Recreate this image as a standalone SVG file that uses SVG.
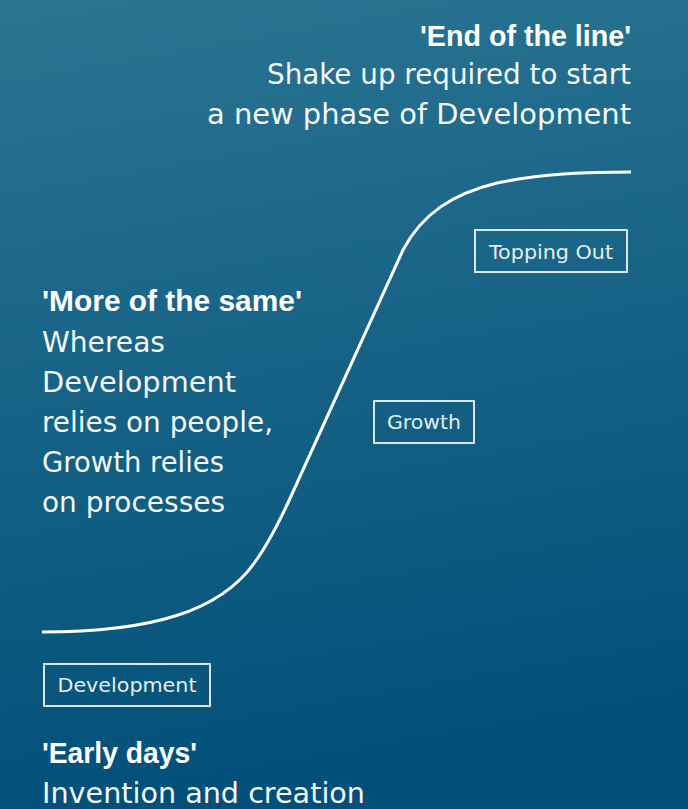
<svg xmlns="http://www.w3.org/2000/svg" width="688" height="809" viewBox="0 0 688 809">
<defs>
<linearGradient id="bg" x1="0" y1="0" x2="0.15" y2="1">
<stop offset="0" stop-color="#2b7592"/>
<stop offset="1" stop-color="#02507a"/>
</linearGradient>
<style>
.t{font-family:"DejaVu Sans","Liberation Sans",sans-serif;font-size:28px;fill:#f3f7f9}
.b{font-family:"Liberation Sans",Arial,sans-serif;font-size:29px;font-weight:bold;fill:#ffffff}
.lbl{font-family:"DejaVu Sans","Liberation Sans",sans-serif;font-size:20px;fill:#e6eef2;text-anchor:middle}
.box{fill:none;stroke:#f0f5f8;stroke-width:1.8}
.curve{fill:none;stroke:#ffffff;stroke-width:3;stroke-linecap:butt}
</style>
</defs>
<rect width="688" height="809" fill="url(#bg)"/>
<g id="connectors">
<path class="curve" d="M42,632 C150,632 220,612 255,562 C268,544 278,524 287,505 L403,250 C422,214 452,194 497,183 C545,173 590,172 631,172"/>
</g>
<g id="end-of-line">
<text class="b" x="420" y="46" textLength="211" lengthAdjust="spacingAndGlyphs">'End of the line'</text>
<text class="t" x="267" y="84" textLength="364" lengthAdjust="spacingAndGlyphs">Shake up required to start</text>
<text class="t" x="207" y="124" textLength="424" lengthAdjust="spacingAndGlyphs">a new phase of Development</text>
</g>
<g id="more-of-same">
<text class="b" x="42" y="311" textLength="260" lengthAdjust="spacingAndGlyphs">'More of the same'</text>
<text class="t" x="42" y="352" textLength="123" lengthAdjust="spacingAndGlyphs">Whereas</text>
<text class="t" x="42" y="392" textLength="194" lengthAdjust="spacingAndGlyphs">Development</text>
<text class="t" x="42" y="432" textLength="231" lengthAdjust="spacingAndGlyphs">relies on people,</text>
<text class="t" x="42" y="472" textLength="182" lengthAdjust="spacingAndGlyphs">Growth relies</text>
<text class="t" x="42" y="512" textLength="183" lengthAdjust="spacingAndGlyphs">on processes</text>
</g>
<g id="early-days">
<text class="b" x="42" y="763" textLength="155" lengthAdjust="spacingAndGlyphs">'Early days'</text>
<text class="t" x="42" y="803" textLength="323" lengthAdjust="spacingAndGlyphs">Invention and creation</text>
</g>
<g id="topping-out">
<rect class="box" x="475" y="230" width="152" height="42"/>
<text class="lbl" x="551" y="259" textLength="124" lengthAdjust="spacingAndGlyphs">Topping Out</text>
</g>
<g id="growth">
<rect class="box" x="374" y="401" width="100" height="42"/>
<text class="lbl" x="424" y="429" textLength="74" lengthAdjust="spacingAndGlyphs">Growth</text>
</g>
<g id="development">
<rect class="box" x="44" y="664" width="166" height="42"/>
<text class="lbl" x="127" y="692" textLength="139" lengthAdjust="spacingAndGlyphs">Development</text>
</g>
</svg>
